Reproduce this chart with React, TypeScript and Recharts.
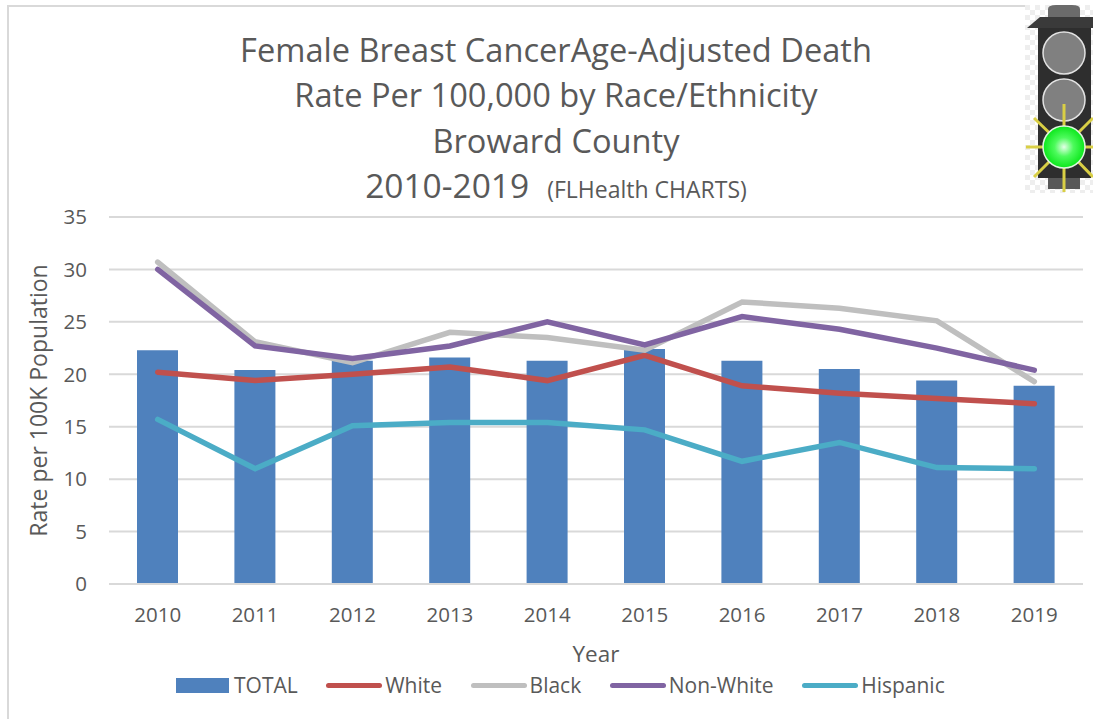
import React from 'react';
import {
  ComposedChart,
  Bar,
  Line,
  XAxis,
  YAxis,
  CartesianGrid,
  Legend,
  Label
} from 'recharts';

const years = ['2010', '2011', '2012', '2013', '2014', '2015', '2016', '2017', '2018', '2019'];
const total = [22.3, 20.4, 21.3, 21.6, 21.3, 22.4, 21.3, 20.5, 19.4, 18.9];
const white = [20.2, 19.4, 20.0, 20.7, 19.4, 21.8, 18.9, 18.2, 17.7, 17.2];
const black = [30.7, 23.1, 21.1, 24.0, 23.5, 22.3, 26.9, 26.3, 25.1, 19.3];
const nonWhite = [30.0, 22.7, 21.5, 22.7, 25.0, 22.8, 25.5, 24.3, 22.5, 20.4];
const hispanic = [15.7, 11.0, 15.1, 15.4, 15.4, 14.7, 11.7, 13.5, 11.1, 11.0];
const yTicks = [0, 5, 10, 15, 20, 25, 30, 35];
const titleLines = ['Female Breast CancerAge-Adjusted Death', 'Rate Per 100,000 by Race/Ethnicity', 'Broward County'];

const chartData = years.map((year, i) => ({
  year,
  TOTAL: total[i],
  White: white[i],
  Black: black[i],
  'Non-White': nonWhite[i],
  Hispanic: hispanic[i]
}));

const FONT = '"Open Sans", sans-serif';
const TEXT = '#595959';

function ChartLegend({ payload }: any) {
  return (
    <div style={{ display: 'flex', alignItems: 'center', fontFamily: FONT, fontSize: 21, color: TEXT, lineHeight: '24px' }}>
      {(payload || []).map((entry: any) => (
        <div key={entry.value} style={{ display: 'flex', alignItems: 'center', marginRight: 28.5 }}>
          {entry.value === 'TOTAL' ? (
            <span style={{ width: 53, height: 15, background: entry.color, marginRight: 5 }} />
          ) : (
            <span style={{ width: 56, height: 5, borderRadius: 3, background: entry.color, marginRight: 3 }} />
          )}
          <span>{entry.value}</span>
        </div>
      ))}
    </div>
  );
}

function TrafficLight() {
  const rays = [
    [1064, 147, 1064, 104],
    [1064, 147, 1064, 192],
    [1064, 147, 1026, 147],
    [1064, 147, 1093, 147],
    [1064, 147, 1034, 118],
    [1064, 147, 1093, 118],
    [1064, 147, 1034, 177],
    [1064, 147, 1093, 177]
  ];
  return (
    <svg width={68} height={188} viewBox="1025 5 68 188" style={{ position: 'absolute', left: 1025, top: 5 }}>
      <defs>
        <pattern id="checker" width="10" height="10" patternUnits="userSpaceOnUse">
          <rect width="10" height="10" fill="#ffffff" />
          <rect width="5" height="5" fill="#eeeeee" />
          <rect x="5" y="5" width="5" height="5" fill="#eeeeee" />
        </pattern>
        <radialGradient id="lamp">
          <stop offset="0%" stopColor="#e4ffe8" />
          <stop offset="45%" stopColor="#4dfb5c" />
          <stop offset="100%" stopColor="#0ae71a" />
        </radialGradient>
      </defs>
      <rect x={1025} y={5} width={68} height={188} fill="url(#checker)" />
      <path d="M1048 17 V9 Q1048 5 1056 5 H1072 Q1080 5 1080 9 V17 Z" fill="#6b6b6b" />
      <rect x={1048} y={176} width={32} height={13} fill="#585858" />
      <rect x={1038} y={27} width={53} height={151} fill="#2e2e2e" />
      <path d="M1027 28 L1040 17 H1093 V28 Z" fill="#3a3a3a" />
      <circle cx={1064} cy={53} r={21} fill="#808080" stroke="#e2e2e2" strokeWidth={1.5} />
      <circle cx={1064} cy={100} r={21} fill="#808080" stroke="#e2e2e2" strokeWidth={1.5} />
      {rays.map((r, i) => (
        <line key={i} x1={r[0]} y1={r[1]} x2={r[2]} y2={r[3]} stroke="#d9cf45" strokeWidth={3} />
      ))}
      <circle cx={1064} cy={147} r={21} fill="url(#lamp)" stroke="#dff5df" strokeWidth={1.5} />
    </svg>
  );
}

export default function App() {
  return (
    <div style={{ position: 'absolute', left: 0, top: 0, width: 1093, height: 719, overflow: 'hidden', background: '#fff' }}>
      <div style={{ position: 'absolute', left: 7, top: 5, width: 1018, height: 714, borderLeft: '2px solid #d9d9d9', borderTop: '2px solid #d9d9d9' }} />

      <ComposedChart
        width={1093}
        height={719}
        data={chartData}
        barCategoryGap={0}
        margin={{ top: 217, right: 10, bottom: 71, left: 0 }}
        style={{ position: 'absolute', left: 0, top: 0 }}
      >
        <CartesianGrid vertical={false} stroke="#d9d9d9" strokeWidth={2} />
        <XAxis
          dataKey="year"
          height={40}
          axisLine={{ stroke: '#d9d9d9', strokeWidth: 2 }}
          tickLine={false}
          tickMargin={17}
          tick={{ fill: TEXT, fontSize: 20.5, fontFamily: FONT }}
        >
          <Label value="Year" position="bottom" offset={22} fill={TEXT} fontSize={22.5} fontFamily={FONT} />
        </XAxis>
        <YAxis
          domain={[0, 35]}
          ticks={yTicks}
          width={109}
          axisLine={false}
          tickLine={false}
          tickMargin={16}
          tick={{ fill: TEXT, fontSize: 20.5, fontFamily: FONT }}
        >
          <Label value="Rate per 100K Population" angle={-90} position="insideLeft" offset={39} fill={TEXT} fontSize={23} fontFamily={FONT} style={{ textAnchor: 'middle' }} />
        </YAxis>
        <Legend
          content={<ChartLegend />}
          itemSorter={null}
          wrapperStyle={{ position: 'absolute', left: 176, top: 673, width: 900, height: 24 }}
        />
        <Bar dataKey="TOTAL" fill="#4f81bd" barSize={41} isAnimationActive={false} />
        <Line dataKey="White" stroke="#c0504d" strokeWidth={5.5} strokeLinecap="round" dot={false} isAnimationActive={false} />
        <Line dataKey="Black" stroke="#bfbfbf" strokeWidth={5.5} strokeLinecap="round" dot={false} isAnimationActive={false} />
        <Line dataKey="Non-White" stroke="#8064a2" strokeWidth={5.5} strokeLinecap="round" dot={false} isAnimationActive={false} />
        <Line dataKey="Hispanic" stroke="#4bacc6" strokeWidth={5.5} strokeLinecap="round" dot={false} isAnimationActive={false} />
      </ComposedChart>

      <div style={{ position: 'absolute', left: 0, top: 27, width: 1112, textAlign: 'center', fontFamily: FONT, fontSize: 32.6, color: TEXT, lineHeight: '45.3px' }}>
        {titleLines.map(line => (
          <div key={line}>{line}</div>
        ))}
        <div>
          <span style={{ fontSize: 33.5 }}>2010-2019</span>
          <span style={{ fontSize: 23, marginLeft: 18 }}>(FLHealth CHARTS)</span>
        </div>
      </div>

      <TrafficLight />
    </div>
  );
}
